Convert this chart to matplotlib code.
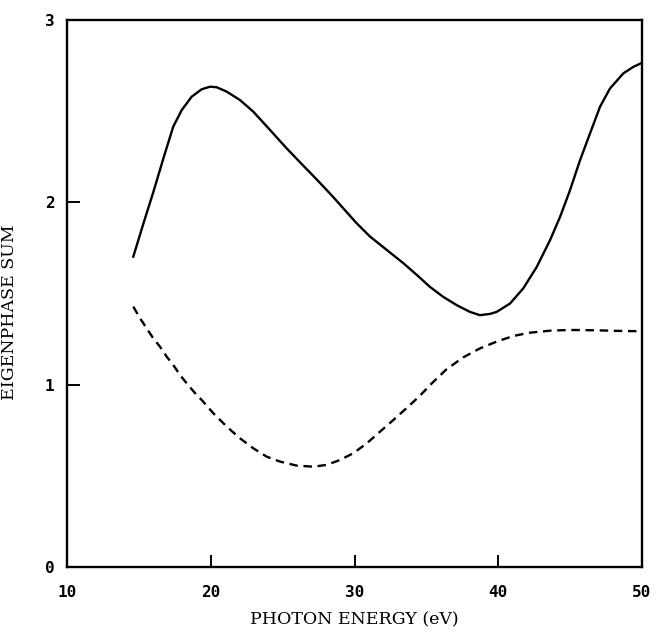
import matplotlib
matplotlib.use("Agg")
import matplotlib.pyplot as plt

# ── data ────────────────────────────────────────────────────────────────────
solid_e = [14.61, 15.3, 16.0, 16.7, 17.39, 17.98, 18.67, 19.37, 19.95, 20.41,
           21.11, 22.03, 22.96, 24.12, 25.28, 26.3, 27.13, 27.83, 28.53, 29.22,
           30.15, 31.08, 32.24, 33.40, 34.33, 35.25, 36.18, 37.11, 38.03, 38.73,
           39.43, 39.89, 40.82, 41.74, 42.68, 43.60, 44.30, 44.99, 45.69, 46.38,
           47.08, 47.77, 48.70, 49.40, 50.0]
solid_v = [1.702, 1.88, 2.055, 2.24, 2.415, 2.506, 2.579, 2.620, 2.634, 2.631,
           2.607, 2.561, 2.497, 2.397, 2.296, 2.212, 2.145, 2.087, 2.028, 1.967,
           1.885, 1.812, 1.739, 1.666, 1.602, 1.536, 1.481, 1.436, 1.399, 1.381,
           1.388, 1.399, 1.445, 1.528, 1.646, 1.792, 1.920, 2.066, 2.231, 2.377,
           2.524, 2.624, 2.707, 2.743, 2.765]

dash_e = [14.61, 15.08, 15.54, 16.00, 16.47, 16.94, 17.39, 17.86, 18.33, 19.02,
          19.37, 20.18, 21.11, 22.03, 22.96, 23.89, 24.82, 25.98, 27.13, 28.07,
          28.99, 29.92, 30.85, 31.77, 32.70, 33.63, 34.56, 35.35, 36.41, 37.57,
          38.73, 39.89, 41.05, 42.21, 43.60, 44.99, 46.85, 48.70, 50.0]
dash_v = [1.428, 1.364, 1.309, 1.254, 1.208, 1.153, 1.108, 1.053, 1.007, 0.943,
          0.916, 0.843, 0.770, 0.706, 0.651, 0.605, 0.578, 0.556, 0.550, 0.560,
          0.587, 0.624, 0.678, 0.742, 0.806, 0.872, 0.940, 1.005, 1.085, 1.150,
          1.199, 1.236, 1.267, 1.285, 1.296, 1.300, 1.298, 1.294, 1.293]

x_ticks = [10, 20, 30, 40, 50]
y_ticks = [0, 1, 2, 3]
# ────────────────────────────────────────────────────────────────────────────

fig = plt.figure(figsize=(6.59, 6.34), dpi=100)
ax = fig.add_axes([0.1017, 0.1057, 0.8725, 0.8628])

ax.plot(solid_e, solid_v, color="black", lw=1.7, solid_joinstyle="round")
ax.plot(dash_e, dash_v, color="black", lw=1.7, dashes=(3.6, 2.4))

ax.set_xlim(10, 50)
ax.set_ylim(0, 3)
ax.set_xticks(x_ticks)
ax.set_yticks(y_ticks)
ax.tick_params(direction="in", length=9, width=1.4, pad=9)
ax.tick_params(axis="x", pad=13)
for sp in ax.spines.values():
    sp.set_linewidth(1.7)

for lab in ax.get_xticklabels() + ax.get_yticklabels():
    lab.set_family("DejaVu Sans Mono")
    lab.set_fontweight("bold")
    lab.set_fontsize(11.5)

ax.set_xlabel("PHOTON ENERGY (eV)", family="DejaVu Serif", fontsize=12.5,
              labelpad=8)
ax.set_ylabel("EIGENPHASE SUM", family="DejaVu Serif", fontsize=12.5)
ax.yaxis.set_label_coords(-0.085, 0.466)

fig.savefig("out.png", dpi=100)
